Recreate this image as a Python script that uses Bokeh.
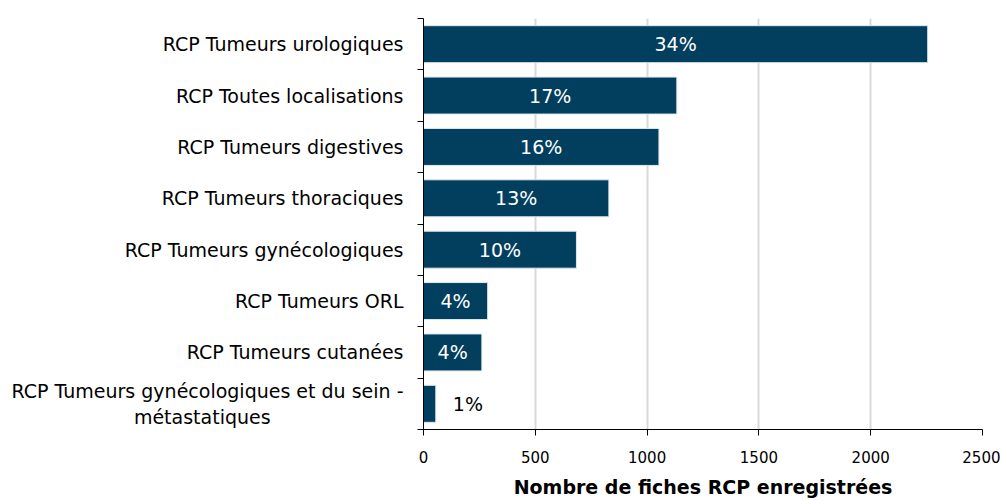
from bokeh.plotting import figure
from bokeh.models import FixedTicker, Range1d, ColumnDataSource
from bokeh.core.properties import value
from bokeh.embed import file_html
from bokeh.resources import INLINE

NB = "\u00a0"
categories = [
    "RCP Tumeurs urologiques",
    "RCP Toutes localisations",
    "RCP Tumeurs digestives",
    "RCP Tumeurs thoraciques",
    "RCP Tumeurs gynécologiques",
    "RCP Tumeurs ORL",
    "RCP Tumeurs cutanées",
    "RCP Tumeurs gynécologiques et du sein -\nmétastatiques" + NB * 22,
]
counts = [2255, 1133, 1053, 829, 684, 287, 261, 55]
percents = ["34%", "17%", "16%", "13%", "10%", "4%", "4%", "1%"]
x_ticks = [0, 500, 1000, 1500, 2000, 2500]

FONT = "DejaVu Sans"
BAR = "#023e5d"

n = len(categories)
ypos = [n - 1 - i for i in range(n)]
inside = [c > 200 for c in counts]
lab_x = [c / 2 if ins else c for c, ins in zip(counts, inside)]
lab_off = [0 if ins else 17 for ins in inside]
lab_col = ["white" if ins else "black" for ins in inside]
lab_align = ["center" if ins else "left" for ins in inside]

src = ColumnDataSource(dict(y=ypos, count=counts, pct=percents, lx=lab_x,
                            loff=lab_off, lcol=lab_col, lal=lab_align))

p = figure(width=1000, height=500, output_backend="svg", toolbar_location=None,
           x_range=Range1d(0, 2500), y_range=Range1d(-0.5, n - 0.5),
           min_border_left=423, min_border_right=18, min_border_top=18,
           min_border_bottom=67)
p.outline_line_color = None
p.background_fill_color = "white"
p.border_fill_color = "white"

p.hbar(y="y", right="count", left=0, height=0.72, source=src,
       fill_color=BAR, line_color="#dfe8ee", line_width=1)

p.text(x="lx", y="y", text="pct", source=src, x_offset="loff",
       text_color="lcol", text_align="lal", text_baseline="middle",
       text_font=value(FONT), text_font_size="19px")

# x axis
p.xaxis.ticker = FixedTicker(ticks=x_ticks)
p.xaxis.axis_label = "Nombre de fiches RCP enregistrées"
p.xaxis.axis_label_text_font = FONT
p.xaxis.axis_label_text_font_style = "bold"
p.xaxis.axis_label_text_font_size = "19px"
p.xaxis.axis_label_text_color = "black"
p.xaxis.axis_label_standoff = 10
p.xaxis.major_label_text_font = FONT
p.xaxis.major_label_text_font_size = "15px"
p.xaxis.major_label_text_color = "black"
p.xaxis.major_label_standoff = 15
p.xaxis.axis_line_color = "black"
p.xaxis.major_tick_line_color = "black"
p.xaxis.major_tick_out = 6
p.xaxis.major_tick_in = 0
p.xaxis.minor_tick_line_color = None

# y axis: labels at centers, ticks at category boundaries
bounds = [i - 0.5 for i in range(n + 1)]
p.yaxis.ticker = FixedTicker(ticks=ypos, minor_ticks=bounds)
overrides = {float(y): c for y, c in zip(ypos, categories)}
overrides.update({int(y): c for y, c in zip(ypos, categories)})
p.yaxis.major_label_overrides = overrides
p.yaxis.major_tick_line_color = None
p.yaxis.minor_tick_line_color = "black"
p.yaxis.minor_tick_out = 6
p.yaxis.minor_tick_in = 0
p.yaxis.axis_line_color = "black"
p.yaxis.major_label_text_font = FONT
p.yaxis.major_label_text_font_size = "19px"
p.yaxis.major_label_text_color = "black"
p.yaxis.major_label_standoff = 14

p.xgrid.grid_line_color = "#d9d9d9"
p.xgrid.grid_line_width = 2
p.ygrid.grid_line_color = None

open("out.html", "w").write(file_html(p, INLINE))
